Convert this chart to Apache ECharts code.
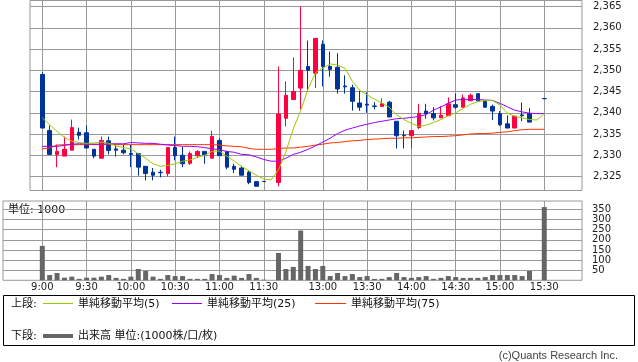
<!DOCTYPE html>
<html><head><meta charset="utf-8">
<script src="https://cdn.jsdelivr.net/npm/echarts@6/dist/echarts.min.js"></script>
<style>html,body{margin:0;padding:0;background:#fff}#c{width:638px;height:362px}</style>
</head><body><div id="c"></div>
<script>
const times = ['9:00','9:05','9:10','9:15','9:20','9:25','9:30','9:35','9:40','9:45','9:50','9:55',
'10:00','10:05','10:10','10:15','10:20','10:25','10:30','10:35','10:40','10:45','10:50','10:55',
'11:00','11:05','11:10','11:15','11:20','11:25','11:30','',
'12:30','12:35','12:40','12:45','12:50','12:55',
'13:00','13:05','13:10','13:15','13:20','13:25','13:30','13:35','13:40','13:45','13:50','13:55',
'14:00','14:05','14:10','14:15','14:20','14:25','14:30','14:35','14:40','14:45','14:50','14:55',
'15:00','15:05','15:10','15:15','15:20','15:25','15:30'];
const opens = [2349,2335.8,2330.2,2329.8,2331.2,2335.4,2335.3,2331.4,2329.3,2333.4,2331.5,2331.2,
2330.4,2330.4,2327.4,2326.0,2326.0,2325.7,2331.8,2330.0,2328.1,2329.9,2330.9,2329.3,
2333.5,2330.9,2327.4,2327.0,2326.0,2323.8,2323.85,null,
2323.6,2338.7,2343.1,2345.8,2350.9,2349.3,
2356.1,2350.9,2350.7,2346.3,2345.9,2342.3,2342.0,2341.6,2341.5,2342.5,2338.0,2334.7,
2334.6,2336.5,2340.4,2339.8,2338.8,2339.3,2341.9,2341.3,2342.8,2344.5,2342.7,2341.5,
2339.8,2337.4,2336.4,2339.5,2339.8,null,2343.35];
const closes = [2336.4,2330.2,2330.9,2331.4,2336.5,2334.7,2331.7,2329.8,2333.5,2331.1,2331.2,2330.6,
2330.2,2327.2,2325.7,2325.3,2325.9,2331.8,2329.9,2328.0,2330.4,2330.9,2330.1,2334.4,
2329.9,2327.2,2326.7,2325.3,2323.6,2322.7,2323.8,null,
2339.7,2344.1,2345.0,2350.0,2350.0,2357.5,
2350.9,2350.2,2345.6,2346.1,2342.7,2341.3,2341.8,2341.5,2342.1,2339.0,2334.6,2334.6,
2335.8,2339.8,2339.8,2338.8,2339.4,2342.1,2341.3,2343.5,2344.1,2342.8,2341.3,2340.4,
2337.2,2336.4,2339.2,2339.3,2337.8,null,2343.3];
const lows = [2336.4,2330.2,2327.2,2329.8,2331.2,2333.7,2331.7,2329.3,2329.3,2330.2,2329.7,2330.2,
2327.2,2325.2,2324.1,2324.1,2324.8,2325.0,2328.8,2327.2,2327.7,2329.4,2328.0,2329.3,
2329.9,2326.7,2325.8,2325.3,2323.2,2322.7,2323.8,null,
2322.7,2336.8,2343.1,2340.8,2345.2,2345.8,
2346.2,2348.5,2344.5,2344.5,2340.5,2340.5,2340.0,2340.8,2341.5,2339.0,2331.6,2331.6,
2331.6,2336.2,2338.6,2338.2,2338.8,2339.3,2340.9,2341.3,2342.8,2342.7,2341.3,2338.3,
2336.9,2336.4,2336.4,2338.0,2337.8,null,2343.3];
const highs = [2349.5,2337,2332.5,2334.4,2338.4,2336.5,2337,2331.4,2334.4,2334.4,2332.3,2332.5,
2332.5,2330.4,2327.4,2327.0,2326.6,2331.8,2334.4,2332.0,2330.9,2331.2,2330.9,2335.8,
2334.0,2330.9,2328.0,2327.4,2326.5,2323.8,2323.85,null,
2350.9,2347.4,2353.0,2365.0,2357.0,2357.5,
2357.0,2354.4,2354.0,2348.8,2346.6,2345.2,2344.8,2342.5,2343.4,2342.8,2338.0,2335.8,
2335.8,2342.1,2342.1,2341.3,2341.5,2343.6,2344.5,2344.3,2344.5,2344.5,2343.0,2341.9,
2340.4,2339.4,2339.2,2342.4,2341.1,null,2343.35];
const volumes = [170,26,36,13,18,7,13,13,18,26,12,7,18,56,46,18,7,26,21,21,7,7,7,31,26,12,23,12,31,12,3,null,
135,56,66,246,71,56,71,21,36,21,31,16,21,7,7,16,36,16,12,16,21,7,12,21,16,12,12,12,16,26,26,26,26,21,46,null,362];
const ma5 = [2338.8,2337.2,2335.6,2334.2,2333.3,2333.0,2332.8,2332.9,2333.1,2332.8,2332.2,2331.8,
2331.5,2330.4,2329.3,2328.0,2327.4,2327.6,2328.0,2328.6,2328.9,2329.5,2330.0,2330.9,
2331.0,2329.8,2328.6,2327.4,2326.3,2325.3,2324.4,2324.2,
2326.6,2330.8,2336.2,2340.5,2345.6,2349.4,
2350.5,2351.5,2351.2,2350.5,2347.4,2345.3,2344.2,2343.2,2342.3,2341.3,2339.5,2338.4,
2337.5,2336.8,2337.1,2337.7,2338.4,2339.3,2340.0,2341.0,2342.0,2342.6,2342.9,2342.9,
2341.8,2339.9,2339.2,2338.8,2338.4,2338.3,2339.8];
const ma25 = [2332.1,2332.1,2332.1,2332.3,2332.6,2332.7,2332.7,2332.6,2332.6,2332.7,2332.7,2332.7,
2333.0,2332.9,2332.8,2332.8,2332.6,2332.4,2332.3,2332.1,2332.1,2332.0,2331.8,2331.5,
2331.3,2330.9,2330.7,2330.2,2330.1,2329.6,2329.0,2328.6,
2328.6,2329.3,2330.2,2330.7,2331.4,2332.2,
2333.1,2334.0,2335.1,2335.9,2336.4,2336.9,2337.3,2337.7,2338.0,2338.3,2338.6,2338.7,
2338.9,2339.1,2339.6,2340.6,2341.4,2342.2,2343.0,2343.1,2343.1,2343.1,2343.0,2342.9,
2342.2,2341.4,2340.6,2340.2,2339.9,2339.8,2339.8];
const ma75 = [2331.5,2331.7,2332.4,2332.5,2332.5,2332.5,2332.5,2332.5,2332.5,2332.5,2332.5,2332.5,
2332.5,2332.5,2332.5,2332.5,2332.5,2332.5,2332.5,2332.5,2332.5,2332.5,2332.5,2332.5,
2332.4,2332.2,2332.1,2332.0,2331.6,2331.4,2331.4,2331.4,
2331.6,2331.7,2331.7,2331.9,2332.1,2332.4,
2332.6,2332.9,2333.0,2333.2,2333.4,2333.5,2333.7,2333.8,2333.9,2334.0,2334.0,2334.1,
2334.1,2334.2,2334.3,2334.4,2334.4,2334.5,2334.6,2334.8,2335.0,2335.1,2335.1,2335.2,
2335.4,2335.5,2335.8,2336.0,2336.1,2336.1,2336.1];
const tickLabels = ['9:00','9:30','10:00','10:30','11:00','11:30','13:00','13:30','14:00','14:30','15:00','15:30'];
const priceTicks = [2325,2330,2335,2340,2345,2350,2355,2360,2365];
const volumeTicks = [50,100,150,200,250,300,350];

const tickPos = tickLabels.map(t => times.indexOf(t));
const pairs = arr => arr.map((v,i)=>[i,v]).filter(d=>d[1]!=null);
const candleData = times.map((t,i)=>[i,opens[i],closes[i],lows[i],highs[i]]).filter(d=>d[1]!=null);

const FONT = '"DejaVu Sans", "Noto Sans CJK JP", sans-serif';
const GRID_C = '#999999';
const chart = echarts.init(document.getElementById('c'), null, {renderer:'canvas'});
const legendText = (txt, x, y) => ({type:'text', x:x, y:y, style:{text:txt, fill:'#111', font:'11px ' + FONT, verticalAlign:'middle', align:'left'}});
const legendLine = (x1, x2, y, color, w) => ({type:'line', shape:{x1:x1, y1:y, x2:x2, y2:y}, style:{stroke:color, lineWidth:w}});

chart.setOption({
  animation:false,
  backgroundColor:'#fff',
  grid:[
    {left:30, top:0.5, width:552, height:190, show:true, borderColor:GRID_C, borderWidth:1, backgroundColor:'transparent'},
    {left:3, top:201, width:579, height:79.3, show:true, borderColor:GRID_C, borderWidth:1, backgroundColor:'transparent'}
  ],
  xAxis:[
    {type:'value', gridIndex:0, min:-1.666, max:73.11, axisLine:{show:false},
     axisTick:{show:false, customValues:tickPos}, axisLabel:{show:false, customValues:tickPos},
     splitLine:{show:true, lineStyle:{color:GRID_C, width:1}}},
    {type:'value', gridIndex:1, min:-5.323, max:73.11, axisLine:{show:false},
     axisTick:{show:false, customValues:tickPos},
     axisLabel:{show:true, customValues:tickPos, formatter:v=>times[v], fontSize:10, fontFamily:'DejaVu Sans', color:'#222', margin:2},
     splitLine:{show:true, lineStyle:{color:GRID_C, width:1}}}
  ],
  yAxis:[
    {type:'value', gridIndex:0, position:'right', min:2321.706, max:2366.412, axisLine:{show:false},
     axisTick:{show:true, inside:false, length:6, customValues:priceTicks, lineStyle:{color:GRID_C}},
     axisLabel:{customValues:priceTicks, formatter:v=>v.toLocaleString('en-US'), fontSize:10, fontFamily:'DejaVu Sans', color:'#222', margin:11},
     splitLine:{show:true, lineStyle:{color:GRID_C, width:1}}},
    {type:'value', gridIndex:1, position:'right', min:0, max:392, axisLine:{show:false},
     axisTick:{show:true, inside:false, length:8, customValues:volumeTicks, lineStyle:{color:GRID_C}},
     axisLabel:{customValues:volumeTicks, fontSize:10, fontFamily:'DejaVu Sans', color:'#222', margin:10},
     splitLine:{show:true, lineStyle:{color:GRID_C, width:1}}}
  ],
  series:[
    {type:'candlestick', xAxisIndex:0, yAxisIndex:0, barWidth:4, data:candleData, z:2,
     itemStyle:{color:'#ff0040', color0:'#003399', borderColor:'#ff0040', borderColor0:'#003399', borderWidth:1}},
    {type:'line', xAxisIndex:0, yAxisIndex:0, data:pairs(ma75), showSymbol:false, symbol:'none', z:3,
     lineStyle:{color:'#ff3300', width:1}},
    {type:'line', xAxisIndex:0, yAxisIndex:0, data:pairs(ma25), showSymbol:false, symbol:'none', z:4,
     lineStyle:{color:'#9900ff', width:1}},
    {type:'line', xAxisIndex:0, yAxisIndex:0, data:pairs(ma5), showSymbol:false, symbol:'none', z:5,
     lineStyle:{color:'#99cc00', width:1}},
    {type:'bar', xAxisIndex:1, yAxisIndex:1, data:pairs(volumes), barWidth:5, clip:false,
     itemStyle:{color:'#666666'}}
  ],
  graphic:[
    {type:'text', x:8, y:210, style:{text:'単位: 1000', fill:'#111', font:'11px ' + FONT, verticalAlign:'middle'}},
    {type:'rect', shape:{x:3.5, y:295.5, width:631, height:50}, style:{fill:'none', stroke:'#000', lineWidth:1}},
    legendText('上段:', 11, 304),
    legendLine(43, 73, 303.5, '#99cc00', 1),
    legendText('単純移動平均(5)', 78, 304),
    legendLine(172, 202, 303.5, '#9900ff', 1),
    legendText('単純移動平均(25)', 207, 304),
    legendLine(315, 346, 303.5, '#ff3300', 1),
    legendText('単純移動平均(75)', 351, 304),
    legendText('下段:', 11, 336),
    legendLine(43, 73, 336, '#666666', 4),
    legendText('出来高 単位:(1000株/口/枚)', 78, 336),
    {type:'text', x:618, y:356, style:{text:'(c)Quants Research Inc.', fill:'#444', font:'11px "Liberation Sans", sans-serif', align:'right', verticalAlign:'middle'}}
  ]
});
</script></body></html>
